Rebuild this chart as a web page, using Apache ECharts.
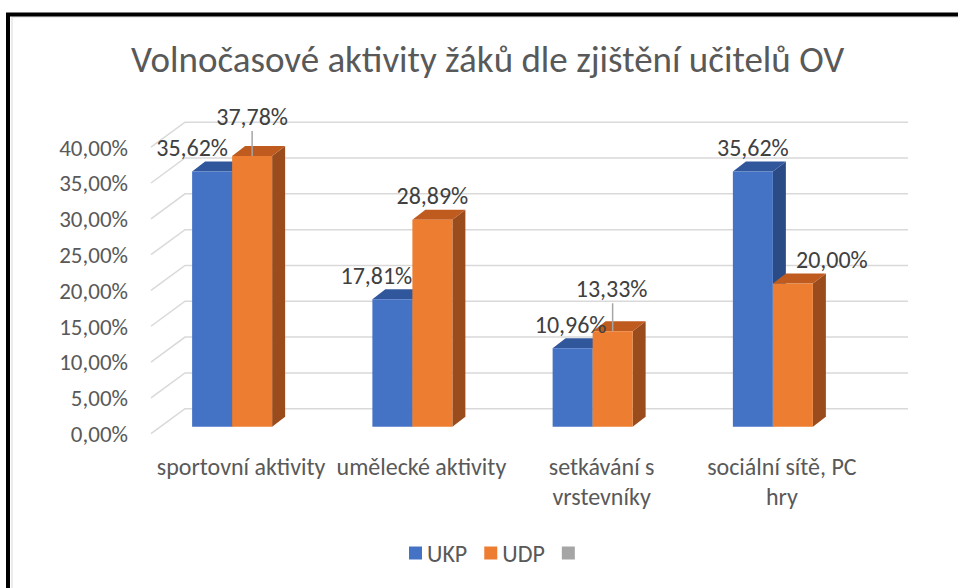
<!DOCTYPE html>
<html>
<head>
<meta charset="utf-8">
<script src="https://cdn.jsdelivr.net/npm/echarts@6/dist/echarts.min.js"></script>
<style>
  html, body { margin: 0; padding: 0; background: #fff; }
  #chart { width: 958px; height: 588px; }
</style>
</head>
<body>
<div id="chart"></div>
<script>
const categories = ['sportovní aktivity', 'umělecké aktivity', 'setkávání s vrstevníky', 'sociální sítě, PC hry']
const ukp = [35.62, 17.81, 10.96, 35.62]
const udp = [37.78, 28.89, 13.33, 20.00]
const yTicks = [0, 5, 10, 15, 20, 25, 30, 35, 40]

const FONT = 'Carlito, Calibri, Lato, "Liberation Sans", sans-serif'
const BAR_W = 40
const DEPTH_X = 13
const DEPTH_Y = 10

// Excel-ish manual label placement: [dx, dy, leader line]
const labelNudge = {
  UKP: [[-20, 0, false], [-16, 0, false], [-2, 0, false], [0, 0, false]],
  UDP: [[0, -16, true], [0, 0, false], [-1, -19, true], [39, 0, false]]
}

const fmt = v => v.toFixed(2).replace('.', ',') + '%'
// Excel wrapped these two category names
const wrapCat = s => s.replace('setkávání s ', 'setkávání s\n').replace('PC hry', 'PC\nhry')

function barItem(colors, side) {
  return function (params, api) {
    const x = api.value(0)
    const v = api.value(1)
    const base = api.coord([x, 0])
    const top = api.coord([x, v])
    const x0 = side < 0 ? base[0] - BAR_W : base[0]
    const x1 = x0 + BAR_W
    const y0 = base[1]
    const y1 = top[1]
    return {
      type: 'group',
      children: [
        {
          type: 'polygon',
          shape: { points: [[x1, y1], [x1 + DEPTH_X, y1 - DEPTH_Y], [x1 + DEPTH_X, y0 - DEPTH_Y], [x1, y0]] },
          style: { fill: colors[2] }
        },
        {
          type: 'polygon',
          shape: { points: [[x0, y1], [x1, y1], [x1 + DEPTH_X, y1 - DEPTH_Y], [x0 + DEPTH_X, y1 - DEPTH_Y]] },
          style: { fill: colors[1] }
        },
        {
          type: 'rect',
          shape: { x: x0, y: y1, width: BAR_W, height: y0 - y1 },
          style: { fill: colors[0] }
        }
      ]
    }
  }
}

function labelItem(name, side) {
  return function (params, api) {
    const i = params.dataIndex
    const x = api.value(0)
    const v = api.value(1)
    const base = api.coord([x, 0])
    const top = api.coord([x, v])
    const x0 = side < 0 ? base[0] - BAR_W : base[0]
    const n = labelNudge[name][i]
    const lx = x0 + BAR_W / 2 + n[0]
    const ly = top[1] - 24 + n[1]
    const kids = [{
      type: 'text',
      style: {
        text: fmt(v), x: lx, y: ly, align: 'center', verticalAlign: 'middle',
        fill: '#404040', fontSize: 24, fontFamily: FONT
      }
    }]
    if (n[2]) {
      kids.push({
        type: 'line',
        shape: { x1: x0 + BAR_W / 2, y1: ly + 15, x2: x0 + BAR_W / 2, y2: top[1] },
        style: { stroke: '#A6A6A6', lineWidth: 1.5 }
      })
    }
    return { type: 'group', children: kids }
  }
}

// back wall gridlines with the perspective stub on the left
function wallItem(params, api) {
  const cs = params.coordSys
  const y = api.coord([0, api.value(0)])[1]
  return {
    type: 'polyline',
    shape: { points: [[cs.x + 9, y + 7], [cs.x + 43, y - 18], [cs.x + cs.width + 45, y - 18]] },
    style: { stroke: '#D9D9D9', lineWidth: 1.5, fill: null }
  }
}

const chart = echarts.init(document.getElementById('chart'), null, { renderer: 'svg' })

chart.setOption({
  animation: false,
  backgroundColor: '#fff',
  title: {
    text: 'Volnočasové aktivity žáků dle zjištění učitelů OV',
    left: 126,
    top: 36,
    textStyle: { color: '#595959', fontSize: 37, fontWeight: 300, fontFamily: FONT }
  },
  legend: {
    data: ['UKP', 'UDP', ' '],
    left: 404,
    top: 536,
    icon: 'rect',
    itemWidth: 13,
    itemHeight: 13,
    itemGap: 17,
    textStyle: { color: '#595959', fontSize: 24, fontFamily: FONT }
  },
  grid: [
    // plane of the bar fronts
    { left: 142, right: 95, top: 140.2, bottom: 161.3 },
    // front edge of the floor, carries the value labels
    { left: 142, right: 95, top: 147.7, bottom: 154.2 }
  ],
  xAxis: [
    {
      type: 'category',
      data: categories,
      axisLine: { show: false },
      axisTick: { show: false },
      axisLabel: {
        color: '#595959', fontSize: 24, fontFamily: FONT, lineHeight: 30,
        margin: 25, interval: 0, padding: [0, 0, 0, 18],
        formatter: wrapCat
      }
    },
    { gridIndex: 1, type: 'category', data: categories, show: false }
  ],
  yAxis: [
    {
      type: 'value', min: 0, max: 40, interval: 5,
      axisLine: { show: false }, axisTick: { show: false },
      splitLine: { show: false }, axisLabel: { show: false }
    },
    {
      gridIndex: 1, type: 'value', min: 0, max: 40, interval: 5,
      axisLine: { show: false }, axisTick: { show: false },
      splitLine: { show: false },
      axisLabel: {
        color: '#595959', fontSize: 23, fontFamily: FONT, margin: 14,
        formatter: v => fmt(v)
      }
    }
  ],
  graphic: [
    { type: 'rect', shape: { x: 12, y: 17, width: 960, height: 600 }, style: { fill: null, stroke: '#D9D9D9', lineWidth: 1 }, z: 100 },
    { type: 'rect', shape: { x: 8, y: 14.5, width: 960, height: 600 }, style: { fill: null, stroke: '#000', lineWidth: 4 }, z: 101 }
  ],
  series: [
    {
      type: 'custom', name: 'wall', z: 1,
      renderItem: wallItem,
      data: yTicks.map(v => [v])
    },
    {
      type: 'custom', name: 'UKP', z: 2,
      itemStyle: { color: '#4472C4' },
      renderItem: barItem(['#4472C4', '#30569C', '#2B4B86'], -1),
      data: ukp.map((v, i) => [i, v])
    },
    {
      type: 'custom', name: 'UDP', z: 2,
      itemStyle: { color: '#ED7D31' },
      renderItem: barItem(['#ED7D31', '#BF5B1F', '#9A4C1C'], 1),
      data: udp.map((v, i) => [i, v])
    },
    {
      type: 'custom', name: ' ', z: 2,
      itemStyle: { color: '#A5A5A5' },
      renderItem: () => null,
      data: []
    },
    {
      type: 'custom', name: 'UKP labels', z: 3,
      renderItem: labelItem('UKP', -1),
      data: ukp.map((v, i) => [i, v])
    },
    {
      type: 'custom', name: 'UDP labels', z: 3,
      renderItem: labelItem('UDP', 1),
      data: udp.map((v, i) => [i, v])
    }
  ]
})
</script>
</body>
</html>
